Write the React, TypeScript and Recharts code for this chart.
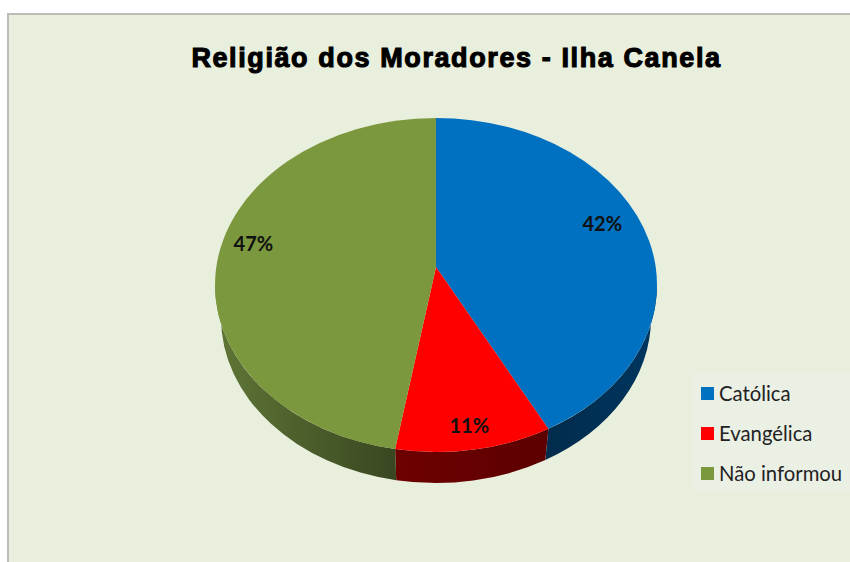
import React from "react";
import { PieChart, Pie, Cell, Legend } from "recharts";

const categories = ["Católica", "Evangélica", "Não informou"];
const values = [41.51, 11.45, 47.04];
const topColors = ["#0070c0", "#ff0000", "#7c983f"];
const sideStart = ["#00365f", "#6e0000", "#5f7636"];
const sideEnd = ["#012b4c", "#5c0000", "#394721"];
const labelReach = [0.78, 0.87, 0.83];

const tableData = categories.map((name, i) => ({ name, value: values[i] }));

const SQUASH = 167 / 221;
const FLOOR_SCALE = 215 / 221;
const FLOOR_DROP = 33;
const APEX_LIFT = 18;
const RAD = Math.PI / 180;

function Slice(props: any) {
  const { cx, cy, outerRadius: rx, startAngle, endAngle, index } = props;
  const i = index ?? 0;
  const ry = rx * SQUASH;
  const rxb = rx * FLOOR_SCALE;
  const ryb = ry - 2;
  const pt = (a: number) => `${cx + rx * Math.cos(a * RAD)} ${cy - ry * Math.sin(a * RAD)}`;
  const floor = (a: number) => `${cx + rxb * Math.cos(a * RAD)} ${cy + FLOOR_DROP - ryb * Math.sin(a * RAD)}`;
  const hi = Math.max(startAngle, endAngle);
  const lo = Math.min(startAngle, endAngle);
  const large = hi - lo > 180 ? 1 : 0;
  const top = `M ${cx} ${cy - APEX_LIFT} L ${pt(hi)} A ${rx} ${ry} 0 ${large} 1 ${pt(lo)} Z`;
  // the visible wall is where the rim runs along the lower half of the ellipse
  const wallHi = Math.min(hi, 0);
  const wallLo = Math.max(lo, -180);
  const hasWall = wallHi > wallLo;
  const wall = hasWall
    ? `M ${pt(wallHi)} A ${rx} ${ry} 0 0 1 ${pt(wallLo)} L ${floor(wallLo)} A ${rxb} ${ryb} 0 0 0 ${floor(wallHi)} Z`
    : "";
  const gid = `wall-${i}`;
  return (
    <g>
      <defs>
        <linearGradient id={gid} x1="0" y1="0" x2="1" y2="0">
          <stop offset="0" stopColor={i === 0 ? sideEnd[i] : sideStart[i]} />
          <stop offset="1" stopColor={i === 0 ? sideStart[i] : sideEnd[i]} />
        </linearGradient>
      </defs>
      {hasWall && <path d={wall} fill={`url(#${gid})`} />}
      <path d={top} fill={topColors[i]} />
    </g>
  );
}

function SliceLabel(props: any) {
  const { cx, cy, outerRadius: rx, midAngle, percent, index } = props;
  const f = labelReach[index];
  const ry = rx * SQUASH;
  const c = Math.cos(midAngle * RAD);
  const s = Math.sin(midAngle * RAD);
  const x = cx + rx * c * f;
  const y = cy - ry * s * f - 29 * Math.abs(c) + (index === 1 ? 2 : 0);
  return (
    <text x={x} y={y} textAnchor="middle" dominantBaseline="central" fontFamily="Lato" fontWeight={700} fontSize={20} fill="#111">
      {`${Math.round(percent * 100)}%`}
    </text>
  );
}

function LegendBox(props: any) {
  const items = props.payload ?? [];
  return (
    <div style={{ width: 158, height: 117, background: "#ebf0e5", boxSizing: "border-box" }}>
      {items.map((it: any, i: number) => (
        <div key={i} style={{ height: 40, display: "flex", alignItems: "center", paddingLeft: 9 }}>
          <span style={{ width: 13, height: 13, background: topColors[i], display: "inline-block", marginRight: 5 }} />
          <span style={{ fontFamily: "Lato", fontSize: 20.3, color: "#222", whiteSpace: "nowrap" }}>{it.value}</span>
        </div>
      ))}
    </div>
  );
}

export default function App() {
  return (
    <div style={{ position: "absolute", left: 0, top: 0, width: 850, height: 562, overflow: "hidden", background: "#fff" }}>
      <div style={{ position: "absolute", left: 7, top: 13, right: 0, bottom: 0, background: "#e9efdd", borderLeft: "2px solid #bdbdb8", borderTop: "2px solid #bdbdb8" }} />
      <div style={{ position: "absolute", left: 0, top: 0 }}>
        <PieChart width={850} height={562} margin={{ top: 0, right: 0, bottom: 0, left: 0 }}>
          <text x={456.5} y={67} textAnchor="middle" fontFamily="Liberation Sans" fontWeight={700} fontSize={27} letterSpacing={1.6} stroke="#000" strokeWidth={1.1} fill="#000">
            Religião dos Moradores - Ilha Canela
          </text>
          <Pie
            data={tableData}
            dataKey="value"
            nameKey="name"
            cx={436}
            cy={285}
            outerRadius={221}
            startAngle={90}
            endAngle={-270}
            stroke="none"
            isAnimationActive={false}
            shape={Slice}
            label={SliceLabel}
            labelLine={false}
          >
            {categories.map((c, i) => (
              <Cell key={c} fill={topColors[i]} />
            ))}
          </Pie>
          <Legend
            layout="vertical"
            content={LegendBox}
            wrapperStyle={{ position: "absolute", left: 692, top: 373, width: 158, height: 117, right: "auto", bottom: "auto" }}
          />
        </PieChart>
      </div>
    </div>
  );
}
